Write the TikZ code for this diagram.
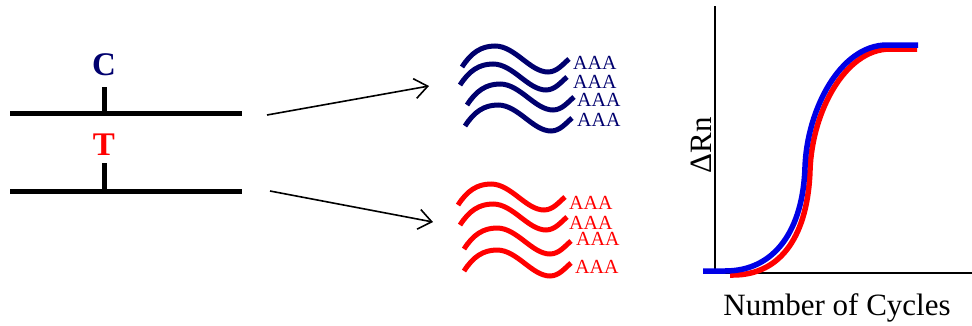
\documentclass[tikz,border=0pt]{standalone}
\usepackage{fontspec}
\setmainfont{Liberation Serif}
\usetikzlibrary{arrows.meta}
\definecolor{navyc}{RGB}{0,0,110}
\definecolor{bluec}{RGB}{0,0,230}
\definecolor{redc}{RGB}{255,0,0}
\tikzset{
  strand/.style={line width=5pt},
  arr/.style={line width=1.6pt,-{Straight Barb[length=13pt,width=20pt,line width=1.6pt]}},
  polya/.style={inner sep=0pt,anchor=base west,font=\fontsize{20}{22}\selectfont},
  wave/.pic={\draw[line width=5pt] (0,0) .. controls (9,-14) and (19,-21) .. (33,-21) .. controls (53,-21) and (68,5) .. (86,5) .. controls (95,5) and (101,-3) .. (107,-8);},
  curve/.style={line width=5.5pt},
  axis/.style={line width=1.5pt},
  big/.style={inner sep=0pt,font=\fontsize{31}{34}\selectfont},
  base/.style={inner sep=0pt,anchor=base,font=\fontsize{33}{36}\selectfont\bfseries}
}
\begin{document}
\begin{tikzpicture}[x=1pt,y=-1pt]
\useasboundingbox (0,0) rectangle (972,325);
% left gene
\coordinate (l1a) at (10,113); \coordinate (l1b) at (242,113);
\coordinate (t1a) at (104,87); \coordinate (t1b) at (104,113);
\coordinate (l2a) at (10,191); \coordinate (l2b) at (242,191);
\coordinate (t2a) at (104,163); \coordinate (t2b) at (104,191);
\draw[strand] (l1a) -- (l1b);
\draw[strand] (t1a) -- (t1b);
\draw[strand] (l2a) -- (l2b);
\draw[strand] (t2a) -- (t2b);
\node[base,text=navyc] (C) at (104,75) {C};
\node[base,text=redc] (T) at (104,155) {T};
% arrows
\coordinate (a1s) at (267,115); \coordinate (a1e) at (429,86);
\coordinate (a2s) at (270,191); \coordinate (a2e) at (433,222);
\draw[arr] (a1s) -- (a1e);
\draw[arr] (a2s) -- (a2e);
% blue transcripts
\pic[color=navyc] at (462,67) {wave};
\pic[color=navyc] at (460,85) {wave};
\pic[color=navyc] at (467,105) {wave};
\pic[color=navyc] at (465,126) {wave};
\node[polya,text=navyc] (b1) at (573,69) {AAA};
\node[polya,text=navyc] (b2) at (573,88) {AAA};
\node[polya,text=navyc] (b3) at (577,106) {AAA};
\node[polya,text=navyc] (b4) at (577,126.5) {AAA};
% red transcripts
\pic[color=redc] at (458,205) {wave};
\pic[color=redc] at (460,225) {wave};
\pic[color=redc] at (464,249) {wave};
\pic[color=redc] at (464,271) {wave};
\node[polya,text=redc] (r1) at (569,209) {AAA};
\node[polya,text=redc] (r2) at (569,229) {AAA};
\node[polya,text=redc] (r3) at (576,245) {AAA};
\node[polya,text=redc] (r4) at (575,273) {AAA};
% graph
\coordinate (O) at (715,273); \coordinate (ytop) at (715,6); \coordinate (xend) at (972,273);
\draw[axis] (ytop) -- (O) -- (xend);
\draw[curve,redc] (730,275) -- (733,275) .. controls (782,275) and (808,234) .. (810,170) .. controls (812,112) and (845,49) .. (890,49) -- (917,49);
\draw[curve,bluec] (703,271) -- (725,271) .. controls (775,271) and (803,230) .. (805,167) .. controls (807,110) and (840,45) .. (887,45) -- (918,45);
\node[big,rotate=90] (yl) at (701,145) {ΔRn};
\node[big,anchor=base] (xl) at (837,315) {Number of Cycles};
\end{tikzpicture}
\end{document}
